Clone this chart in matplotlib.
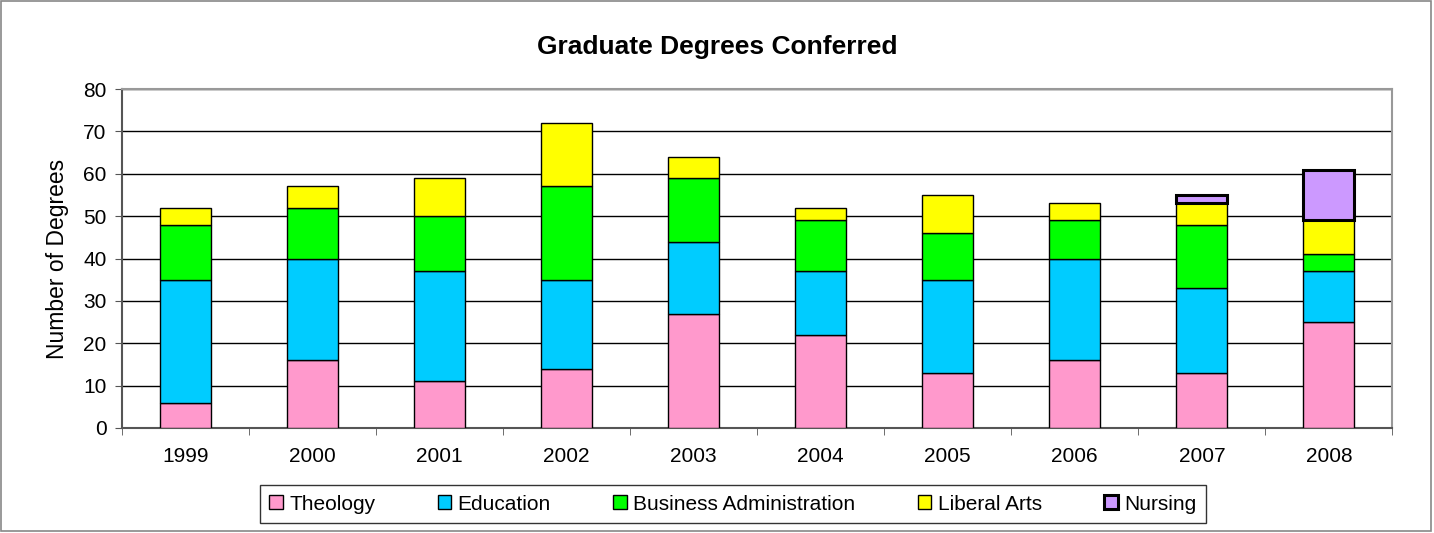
import matplotlib
matplotlib.use("Agg")
import matplotlib.pyplot as plt
import numpy as np

years = ["1999", "2000", "2001", "2002", "2003", "2004", "2005", "2006", "2007", "2008"]
theology = [6, 16, 11, 14, 27, 22, 13, 16, 13, 25]
education = [29, 24, 26, 21, 17, 15, 22, 24, 20, 12]
business = [13, 12, 13, 22, 15, 12, 11, 9, 15, 4]
liberal_arts = [4, 5, 9, 15, 5, 3, 9, 4, 5, 8]
nursing = [0, 0, 0, 0, 0, 0, 0, 0, 2, 12]

series = [
    ("Theology", theology, "#ff99cc"),
    ("Education", education, "#00ccff"),
    ("Business Administration", business, "#00ff00"),
    ("Liberal Arts", liberal_arts, "#ffff00"),
    ("Nursing", nursing, "#cc99ff"),
]

plt.rcParams["font.family"] = ["Liberation Sans", "DejaVu Sans"]

fig = plt.figure(figsize=(14.34, 5.33), dpi=100)
ax = fig.add_axes([0.085, 0.197, 0.886, 0.636])

x = np.arange(len(years))
width = 0.4
bottom = np.zeros(len(years))
for name, vals, color in series:
    vals = np.array(vals, dtype=float)
    thick = name == "Nursing"
    mask = vals > 0
    ax.bar(x[mask], vals[mask], width, bottom=bottom[mask], color=color,
           edgecolor="black", linewidth=2.2 if thick else 1.0,
           label=name, zorder=3)
    bottom += vals

ax.set_ylim(0, 80)
ax.set_yticks(range(0, 81, 10))
ax.set_xlim(-0.5, len(years) - 0.5)
ax.set_xticks(x)
ax.set_xticklabels(years)
ax.set_xticks(np.arange(-0.5, len(years), 1), minor=True)
ax.tick_params(axis="x", which="major", length=0, pad=14, labelsize=15)
ax.tick_params(axis="x", which="minor", length=5, direction="out", color="#555555")
ax.tick_params(axis="y", length=5, direction="out", labelsize=15, pad=6, color="#555555")
ax.grid(axis="y", color="black", linewidth=1.0, zorder=0)
ax.set_axisbelow(True)
for side in ["top", "right"]:
    ax.spines[side].set_color("#999999")
    ax.spines[side].set_linewidth(1.5)
for side in ["left", "bottom"]:
    ax.spines[side].set_color("#555555")
    ax.spines[side].set_linewidth(1.5)

ax.set_ylabel("Number of Degrees", fontsize=16.5, labelpad=10)
fig.suptitle("Graduate Degrees Conferred", fontsize=19, fontweight="bold", y=0.935)

leg = fig.legend(loc="center", bbox_to_anchor=(0.511, 0.054), ncol=5,
                 fontsize=15, frameon=True, fancybox=False, edgecolor="black",
                 handlelength=0.65, handleheight=0.65, handletextpad=0.3,
                 columnspacing=3.0, borderpad=0.45)
leg.get_frame().set_linewidth(1.0)

fig.patches.append(plt.Rectangle((0.001, 0.004), 0.997, 0.994, transform=fig.transFigure,
                                 fill=False, edgecolor="#888888", linewidth=1.2))

fig.savefig("out.png", dpi=100, facecolor="white")
